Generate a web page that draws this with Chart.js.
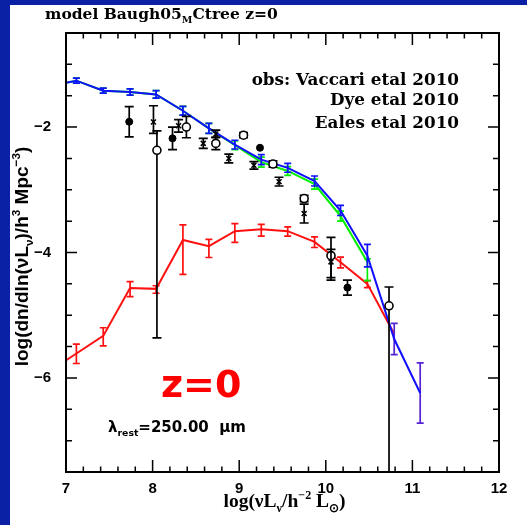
<!DOCTYPE html>
<html>
<head>
<meta charset="UTF-8">
<title>Baugh05 250um luminosity function, z=0</title>
<script src="https://cdn.jsdelivr.net/npm/chart.js"></script>
<style>
  html, body { margin: 0; padding: 0; background: #fff; }
  canvas { display: block; }
</style>
</head>
<body>
<canvas id="lfChart" width="527" height="525"></canvas>

<script>
// ---- model (Baugh05, Ctree) : bins in log(nuL_nu), values log(dn/dln nuL_nu)
const modelBins = [6.82, 7.12, 7.43, 7.74, 8.04, 8.35, 8.65, 8.95, 9.255, 9.56, 9.87, 10.17, 10.48, 10.79, 11.09];

const blueY   = [-1.34, -1.26, -1.42, -1.44, -1.48, -1.74, -2.02, -2.28, -2.52, -2.65, -2.86, -3.33, -4.05, -5.38, -6.24];
const blueErr = [0.04, 0.04, 0.04, 0.05, 0.06, 0.07, 0.08, 0.07, 0.08, 0.07, 0.08, 0.08, 0.18, 0.25, 0.48];

const greenY     = [-1.34, -1.26, -1.42, -1.44, -1.48, -1.74, -2.02, -2.29, -2.56, -2.70, -2.91, -3.42, -4.15];
const greenErrLo = [0.04, 0.04, 0.04, 0.05, 0.06, 0.07, 0.08, 0.07, 0.08, 0.07, 0.08, 0.08, 0.30];
const greenErrHi = [0.04, 0.04, 0.04, 0.05, 0.06, 0.07, 0.08, 0.07, 0.08, 0.07, 0.08, 0.08, 0.05];

const redY     = [-5.885, -5.61, -5.33, -4.565, -4.58, -3.80, -3.90, -3.66, -3.63, -3.66, -3.83, -4.155, -4.50, -5.30];
const redErrLo = [0.16, 0.16, 0.16, 0.14, 0.07, 0.55, 0.18, 0.18, 0.11, 0.08, 0.09, 0.09, 0.06, 0];
const redErrHi = [0.15, 0.15, 0.13, 0.10, 0.05, 0.24, 0.11, 0.12, 0.08, 0.07, 0.08, 0.08, 0.05, 0];

// ---- observations
const vaccariX   = [7.73, 8.23, 9.24, 10.25];
const vaccariY   = [-1.915, -2.18, -2.33, -4.56];
const vaccariErr = [0.24, 0.18, 0, 0.12];

const dyeX     = [8.01, 8.30, 8.585, 8.73, 8.88, 9.17, 9.46, 9.75, 10.06];
const dyeY     = [-1.92, -1.98, -2.26, -2.11, -2.50, -2.61, -2.87, -3.38, -4.15];
const dyeErrLo = [0.18, 0.10, 0.08, 0.06, 0.07, 0.06, 0.07, 0.15, 0.25];
const dyeErrHi = [0.26, 0.10, 0.08, 0.06, 0.07, 0.06, 0.07, 0.15, 0.20];

const ealesX     = [8.05, 8.39, 8.73, 9.05, 9.39, 9.75, 10.06, 10.73];
const ealesY     = [-2.37, -2.00, -2.26, -2.13, -2.59, -3.14, -4.05, -4.85];
const ealesErrLo = [2.99, 0.17, 0.10, 0.04, 0.05, 0.05, 0.39, 3.50];
const ealesErrHi = [0.31, 0.17, 0.10, 0.04, 0.05, 0.05, 0.29, 0.30];

// axis ticks
const xTicks = [7, 8, 9, 10, 11, 12];
const yTicks = [-6, -4, -2];

const toPts = (xs, ys) => ys.map((v, i) => ({ x: xs[i], y: v }));

// white page with the blue slide border on the left and top
const background = {
  id: 'background',
  beforeDraw(chart) {
    const { ctx, width, height } = chart;
    ctx.save();
    ctx.fillStyle = '#fff';
    ctx.fillRect(0, 0, width, height);
    ctx.fillStyle = '#0b21a5';
    ctx.fillRect(0, 0, 10, height);
    ctx.fillRect(0, 0, width, 5);
    ctx.restore();
  }
};

// vertical error bars with caps, drawn under each dataset's own markers
const errorBars = {
  id: 'errorBars',
  beforeDatasetDraw(chart, args) {
    const ds = chart.data.datasets[args.index];
    if (!ds.errLo) return;
    const { ctx, chartArea: a, scales: { x, y } } = chart;
    ctx.save();
    ctx.beginPath();
    ctx.rect(a.left, a.top, a.right - a.left, a.bottom - a.top);
    ctx.clip();
    ctx.lineWidth = 1.7;
    ds.data.forEach((p, i) => {
      const lo = ds.errLo[i], hi = ds.errHi[i];
      if (!lo && !hi) return;
      const px = x.getPixelForValue(p.x);
      const y0 = y.getPixelForValue(p.y - lo);
      const y1 = y.getPixelForValue(p.y + hi);
      const c = ds.capHalf;
      ctx.strokeStyle = ds.errColorAt ? ds.errColorAt(i) : ds.borderColor;
      ctx.beginPath();
      ctx.moveTo(px, y0); ctx.lineTo(px, y1);
      ctx.moveTo(px - c, y0); ctx.lineTo(px + c, y0);
      ctx.moveTo(px - c, y1); ctx.lineTo(px + c, y1);
      ctx.stroke();
    });
    ctx.restore();
  }
};

// box with inward major/minor ticks on all four sides
const frame = {
  id: 'frame',
  afterDatasetsDraw(chart) {
    const { ctx, chartArea: a, scales: { x, y } } = chart;
    ctx.save();
    ctx.strokeStyle = '#000';
    ctx.lineWidth = 2;
    ctx.strokeRect(a.left, a.top, a.right - a.left, a.bottom - a.top);
    ctx.lineWidth = 1.5;
    ctx.beginPath();
    for (let k = 0; k <= 25; k++) {
      const px = x.getPixelForValue(7 + k * 0.2);
      const len = k % 5 === 0 ? 12 : 5.5;
      ctx.moveTo(px, a.bottom); ctx.lineTo(px, a.bottom - len);
      ctx.moveTo(px, a.top); ctx.lineTo(px, a.top + len);
    }
    for (let k = 0; k <= 14; k++) {
      const v = -7.5 + k * 0.5;
      const py = y.getPixelForValue(v);
      const len = yTicks.includes(v) ? 11 : 6;
      ctx.moveTo(a.left, py); ctx.lineTo(a.left + len, py);
      ctx.moveTo(a.right, py); ctx.lineTo(a.right - len, py);
    }
    ctx.stroke();
    ctx.restore();
  }
};

// text with sub/superscript pieces: [string, shift] (shift -1 sub, 1 sup)
function richWidth(ctx, parts, size, font) {
  let w = 0;
  parts.forEach(([t, s]) => {
    ctx.font = font.replace('SIZE', (s ? size * 0.62 : size) + 'px');
    w += ctx.measureText(t).width;
  });
  return w;
}
function drawRich(ctx, parts, x, y, size, font, align) {
  let cx = x;
  if (align === 'center') cx -= richWidth(ctx, parts, size, font) / 2;
  if (align === 'right') cx -= richWidth(ctx, parts, size, font);
  parts.forEach(([t, s]) => {
    ctx.font = font.replace('SIZE', (s ? size * 0.62 : size) + 'px');
    const dy = s < 0 ? size * 0.28 : s > 0 ? -size * 0.42 : 0;
    ctx.fillText(t, cx, y + dy);
    cx += ctx.measureText(t).width;
  });
}

const annotations = {
  id: 'annotations',
  afterDraw(chart) {
    const { ctx, chartArea: a } = chart;
    ctx.save();
    ctx.fillStyle = '#000';
    ctx.textBaseline = 'alphabetic';
    ctx.textAlign = 'left';

    const serifB = 'bold SIZE "DejaVu Serif"';
    drawRich(ctx, [['model Baugh05', 0], ['M', -1], ['Ctree z=0', 0]], 45, 19, 15.5, serifB, 'left');

    drawRich(ctx, [['obs: Vaccari etal 2010', 0]], 459, 85, 16.8, serifB, 'right');
    drawRich(ctx, [['Dye etal 2010', 0]], 459, 105, 16.8, serifB, 'right');
    drawRich(ctx, [['Eales etal 2010', 0]], 459, 128, 16.8, serifB, 'right');

    ctx.fillStyle = '#ff0000';
    ctx.font = 'bold 38px "DejaVu Sans"';
    ctx.fillText('z=0', 161, 397);

    ctx.fillStyle = '#000';
    drawRich(ctx, [['λ', 0], ['rest', -1], ['=250.00  μm', 0]], 108, 432, 15, 'bold SIZE "DejaVu Sans"', 'left');

    drawRich(ctx, [['log(νL', 0], ['ν', -1], ['/h', 0], ['−2', 1], [' L', 0], ['⊙', -1], [')', 0]],
      (a.left + a.right) / 2 + 2, 507, 19.5, 'bold SIZE "Liberation Serif"', 'center');

    ctx.translate(28, (a.top + a.bottom) / 2 + 4);
    ctx.rotate(-Math.PI / 2);
    drawRich(ctx, [['log(dn/dln(νL', 0], ['ν', -1], [')/h', 0], ['3', 1], [' Mpc', 0], ['−3', 1], [')', 0]],
      0, 0, 19, 'bold SIZE "Liberation Sans"', 'center');
    ctx.restore();
  }
};

const blue = '#1010ff';
const tickFont = { family: 'Liberation Sans', size: 15, weight: 'bold' };

new Chart(document.getElementById('lfChart').getContext('2d'), {
  type: 'scatter',
  data: {
    datasets: [
      {
        label: 'Vaccari etal 2010',
        data: toPts(vaccariX, vaccariY),
        errLo: vaccariErr, errHi: vaccariErr, capHalf: 4.5,
        pointStyle: 'circle', pointRadius: 3.5,
        backgroundColor: '#000', borderColor: '#000', borderWidth: 1
      },
      {
        label: 'Dye etal 2010',
        data: toPts(dyeX, dyeY),
        errLo: dyeErrLo, errHi: dyeErrHi, capHalf: 4.5,
        pointStyle: 'crossRot', pointRadius: 3.5,
        backgroundColor: '#000', borderColor: '#000', borderWidth: 1.5
      },
      {
        label: 'Eales etal 2010',
        data: toPts(ealesX, ealesY),
        errLo: ealesErrLo, errHi: ealesErrHi, capHalf: 4.5,
        pointStyle: 'circle', pointRadius: 4,
        backgroundColor: '#fff', borderColor: '#000', borderWidth: 1.6
      },
      {
        label: 'model',
        data: toPts(modelBins, blueY),
        showLine: true, pointRadius: 0, borderWidth: 2,
        borderColor: blue, errLo: blueErr, errHi: blueErr, capHalf: 3.5,
        errColorAt: i => (i >= 13 ? '#5522d4' : blue)
      },
      {
        label: 'model (green)',
        data: toPts(modelBins, greenY),
        showLine: true, pointRadius: 0, borderWidth: 2,
        borderColor: '#00ee00', errLo: greenErrLo, errHi: greenErrHi, capHalf: 3.5
      },
      {
        label: 'model (red)',
        data: toPts(modelBins, redY),
        showLine: true, pointRadius: 0, borderWidth: 2,
        borderColor: '#ff1010', errLo: redErrLo, errHi: redErrHi, capHalf: 3.5
      }
    ]
  },
  options: {
    responsive: false,
    animation: false,
    devicePixelRatio: 1,
    layout: { padding: { top: 33, right: 28, left: 0, bottom: 0 } },
    plugins: { legend: { display: false }, tooltip: { enabled: false } },
    scales: {
      x: {
        type: 'linear', min: 7, max: 12,
        afterBuildTicks: s => { s.ticks = xTicks.map(v => ({ value: v })); },
        afterFit: s => { s.height = 53; },
        grid: { display: false, drawTicks: false },
        border: { display: false },
        ticks: { color: '#000', font: tickFont, padding: 8, maxRotation: 0 }
      },
      y: {
        type: 'linear', min: -7.5, max: -0.5,
        afterBuildTicks: s => { s.ticks = yTicks.map(v => ({ value: v })); },
        afterFit: s => { s.width = 66; },
        grid: { display: false, drawTicks: false },
        border: { display: false },
        ticks: {
          color: '#000', font: tickFont, padding: 15,
          callback: v => '\u2212' + Math.abs(v)
        }
      }
    }
  },
  plugins: [background, errorBars, frame, annotations]
});
</script>
</body>
</html>
